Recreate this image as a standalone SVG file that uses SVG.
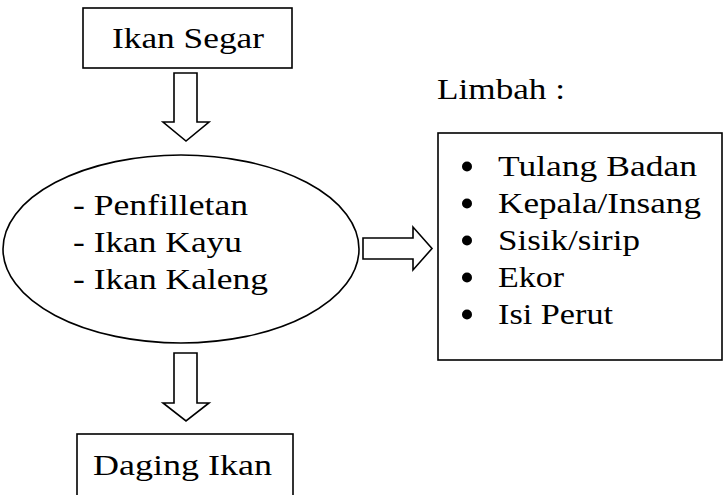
<svg xmlns="http://www.w3.org/2000/svg" width="723" height="495" viewBox="0 0 723 495">
<style>
.box{fill:#fff;stroke:#000;stroke-width:1.6}
.arr{fill:#fff;stroke:#000;stroke-width:1.6;stroke-linejoin:miter}
</style>
<rect width="723" height="495" fill="#fff"/>
<g id="connectors">
<polygon class="arr" points="174,73 197,73 197,122 209,122 186,141 163,122 174,122"/>
<polygon class="arr" points="174,353 197,353 197,403 209,403 186,421 163,403 174,403"/>
<polygon class="arr" points="363,238 413,238 413,227 432,248.5 413,270 413,259 363,259"/>
</g>
<g font-family="Liberation Serif, Times New Roman, serif" font-size="29" fill="#000">
<g id="ikan-segar">
<rect class="box" x="83" y="8" width="209" height="60"/>
<text x="112" y="48" textLength="152" lengthAdjust="spacingAndGlyphs">Ikan Segar</text>
</g>
<g id="proses">
<ellipse class="box" cx="181" cy="249" rx="178" ry="94"/>
<text x="73" y="215" textLength="175" lengthAdjust="spacingAndGlyphs">- Penfilletan</text>
<text x="73" y="252" textLength="169" lengthAdjust="spacingAndGlyphs">- Ikan Kayu</text>
<text x="73" y="289" textLength="195" lengthAdjust="spacingAndGlyphs">- Ikan Kaleng</text>
</g>
<g id="limbah-label">
<text x="437" y="99" textLength="128" lengthAdjust="spacingAndGlyphs">Limbah :</text>
</g>
<g id="limbah">
<rect class="box" x="438" y="133" width="284" height="227"/>
<circle cx="467" cy="166.5" r="5"/>
<text x="498" y="176" textLength="199" lengthAdjust="spacingAndGlyphs">Tulang Badan</text>
<circle cx="467" cy="203.5" r="5"/>
<text x="498" y="213" textLength="203" lengthAdjust="spacingAndGlyphs">Kepala/Insang</text>
<circle cx="467" cy="240.5" r="5"/>
<text x="498" y="250" textLength="142" lengthAdjust="spacingAndGlyphs">Sisik/sirip</text>
<circle cx="467" cy="277.5" r="5"/>
<text x="498" y="287" textLength="66" lengthAdjust="spacingAndGlyphs">Ekor</text>
<circle cx="467" cy="314.5" r="5"/>
<text x="498" y="324" textLength="115" lengthAdjust="spacingAndGlyphs">Isi Perut</text>
</g>
<g id="daging-ikan">
<rect class="box" x="77" y="434" width="216" height="80"/>
<text x="93" y="475" textLength="179" lengthAdjust="spacingAndGlyphs">Daging Ikan</text>
</g>
</g>
</svg>
